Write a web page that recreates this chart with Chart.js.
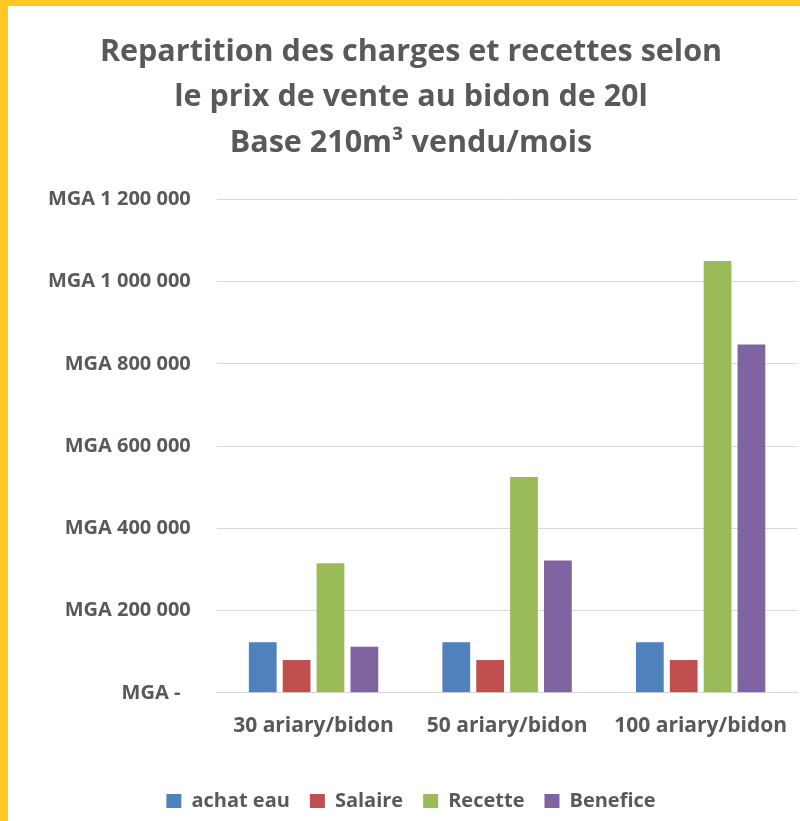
<!DOCTYPE html>
<html>
<head>
<meta charset="utf-8">
<script src="https://cdn.jsdelivr.net/npm/chart.js@4.4.1/dist/chart.umd.min.js"></script>
<style>
  html, body { margin: 0; padding: 0; background: #FFC825; }
  #box { position: absolute; left: 8px; top: 6px; width: 792px; height: 815px; background: #fff; }
</style>
</head>
<body>
<div id="box"><canvas id="chart"></canvas></div>
<script>
// categories / series
const categories = ['30 ariary/bidon', '50 ariary/bidon', '100 ariary/bidon']
const achatEau   = [123000, 123000, 123000]
const salaire    = [80000, 80000, 80000]
const recette    = [315000, 525000, 1050000]
const benefice   = [112000, 322000, 847000]
const yTicks     = [0, 200000, 400000, 600000, 800000, 1000000, 1200000]

const grey = '#595959'
const font = '"Open Sans", Lato, sans-serif'

// accounting style: zero shown as a dash, thousands split by spaces
function mga(v) {
    if (v === 0) return 'MGA -\u00a0\u00a0'
    return 'MGA ' + String(v).replace(/\B(?=(\d{3})+(?!\d))/g, ' ')
}

const ctx = document.getElementById('chart').getContext('2d')
const barData = {
    labels: categories,
    datasets: [
        { label: 'achat eau', data: achatEau, backgroundColor: '#4F81BD' },
        { label: 'Salaire',   data: salaire,  backgroundColor: '#C0504D' },
        { label: 'Recette',   data: recette,  backgroundColor: '#9BBB59' },
        { label: 'Benefice',  data: benefice, backgroundColor: '#8064A2' }
    ]
}

new Chart(ctx, {
    type: 'bar',
    data: barData,
    options: {
        responsive: true,
        maintainAspectRatio: false,
        animation: false,
        datasets: { bar: { categoryPercentage: 0.7, barPercentage: 0.82 } },
        layout: { padding: { top: 24, left: 14, right: 0, bottom: 0 } },
        plugins: {
            title: {
                display: true,
                text: ['Repartition des charges et recettes selon', 'le prix de vente au bidon de 20l', 'Base 210m³ vendu/mois'],
                color: grey,
                font: { family: font, size: 30.5, weight: 'bold', lineHeight: 1.48 },
                padding: { top: 0, bottom: 34 }
            },
            legend: {
                position: 'bottom',
                labels: {
                    color: grey,
                    boxWidth: 15,
                    boxHeight: 14,
                    padding: 20,
                    font: { family: font, size: 20, weight: 'bold' }
                }
            },
            tooltip: { enabled: false }
        },
        scales: {
            x: {
                grid: { display: false },
                border: { color: '#D9D9D9' },
                ticks: { color: grey, padding: 13, font: { family: font, size: 21, weight: 'bold' } },
                afterFit: (axis) => { axis.height += 19 }
            },
            y: {
                min: 0,
                max: 1200000,
                afterBuildTicks: (axis) => { axis.ticks = yTicks.map(v => ({ value: v })) },
                grid: { color: '#D9D9D9', drawTicks: false },
                border: { display: false },
                ticks: {
                    color: grey,
                    padding: 26,
                    font: { family: font, size: 20, weight: 'bold' },
                    callback: (v) => mga(v)
                }
            }
        }
    }
})
</script>
</body>
</html>
